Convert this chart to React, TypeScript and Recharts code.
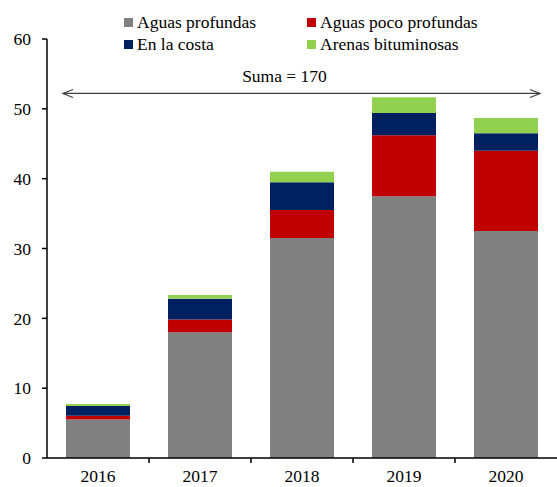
import React from 'react';
import { BarChart, Bar, XAxis, YAxis, ReferenceLine } from 'recharts';

const years = ['2016', '2017', '2018', '2019', '2020'];
const deepWater = [5.5, 18.0, 31.5, 37.5, 32.5];
const shallowWater = [0.55, 1.85, 4.0, 8.7, 11.5];
const onshore = [1.4, 2.95, 4.0, 3.2, 2.5];
const oilSands = [0.3, 0.55, 1.5, 2.25, 2.2];
const yTicks = [0, 10, 20, 30, 40, 50, 60];
const seriesNames = ['Aguas profundas', 'Aguas poco profundas', 'En la costa', 'Arenas bituminosas'];
const seriesColors = ['#808080', '#C00000', '#002060', '#92D050'];
const sumLabel = 'Suma = 170';
const arrowLevel = 52.2;

const data = years.map((year, i) => ({
  year,
  deep: deepWater[i],
  shallow: shallowWater[i],
  onshore: onshore[i],
  sands: oilSands[i],
}));

const FONT = "'Times New Roman', Times, 'Liberation Serif', serif";
const FS = 17.5;

const XTick = (props: any) => {
  const { x, y, payload, index } = props;
  const half = payload && payload.offset != null ? payload.offset : 51;
  return (
    <g>
      <text x={x} y={y + 24} textAnchor="middle" style={{ fontFamily: FONT }} fontSize={FS} fill="#000">
        {payload.value}
      </text>
      {index < years.length - 1 && (
        <line x1={x + half} x2={x + half} y1={y} y2={y + 5} stroke="#000" strokeWidth={1.5} />
      )}
    </g>
  );
};

const ArrowShape = (props: any) => {
  const { x1, x2, y1 } = props;
  const l = x1 + 16;
  const r = x2 - 17;
  const y = y1;
  const cx = (l + r) / 2 - 17;
  return (
    <g>
      <line x1={l} x2={r} y1={y} y2={y} stroke="#404040" strokeWidth={1.2} />
      <polyline points={`${l + 10},${y - 4} ${l},${y} ${l + 10},${y + 4}`} fill="none" stroke="#404040" strokeWidth={1.2} />
      <polyline points={`${r - 10},${y - 4} ${r},${y} ${r - 10},${y + 4}`} fill="none" stroke="#404040" strokeWidth={1.2} />
      <text x={cx} y={y - 11} textAnchor="middle" style={{ fontFamily: FONT }} fontSize={FS} fill="#000">
        {sumLabel}
      </text>
    </g>
  );
};

const LegendBox = () => (
  <div
    style={{
      position: 'absolute',
      top: 12,
      left: 124,
      display: 'grid',
      gridTemplateColumns: '183px 220px',
      fontFamily: FONT,
      fontSize: FS,
      color: '#000',
    }}
  >
    {seriesNames.map((name, i) => (
      <div key={name} style={{ display: 'flex', alignItems: 'center', height: 21.5, whiteSpace: 'nowrap' }}>
        <span style={{ display: 'inline-block', width: 9, height: 9, background: seriesColors[i], marginRight: 4 }} />
        <span>{name}</span>
      </div>
    ))}
  </div>
);

export default function App() {
  return (
    <div style={{ position: 'absolute', left: 0, top: 0, width: 557, height: 487, background: '#fff' }}>
      <BarChart width={557} height={487} data={data} margin={{ top: 39, right: 0, bottom: 0, left: 0 }} barSize={64}>
        <XAxis
          dataKey="year"
          height={29}
          tickSize={0}
          tickMargin={0}
          tickLine={false}
          axisLine={{ stroke: '#000', strokeWidth: 1.5 }}
          tick={<XTick />}
          interval={0}
        />
        <YAxis
          width={47}
          domain={[0, 60]}
          ticks={yTicks}
          tickSize={5}
          tickMargin={11}
          axisLine={{ stroke: '#000', strokeWidth: 1.5 }}
          tickLine={{ stroke: '#000', strokeWidth: 1.5 }}
          tick={{ fontSize: FS, fill: '#000', style: { fontFamily: FONT } }}
        />
        <Bar dataKey="deep" stackId="a" fill={seriesColors[0]} isAnimationActive={false} />
        <Bar dataKey="shallow" stackId="a" fill={seriesColors[1]} isAnimationActive={false} />
        <Bar dataKey="onshore" stackId="a" fill={seriesColors[2]} isAnimationActive={false} />
        <Bar dataKey="sands" stackId="a" fill={seriesColors[3]} isAnimationActive={false} />
        <ReferenceLine y={arrowLevel} shape={<ArrowShape />} ifOverflow="visible" />
      </BarChart>
      <LegendBox />
    </div>
  );
}
